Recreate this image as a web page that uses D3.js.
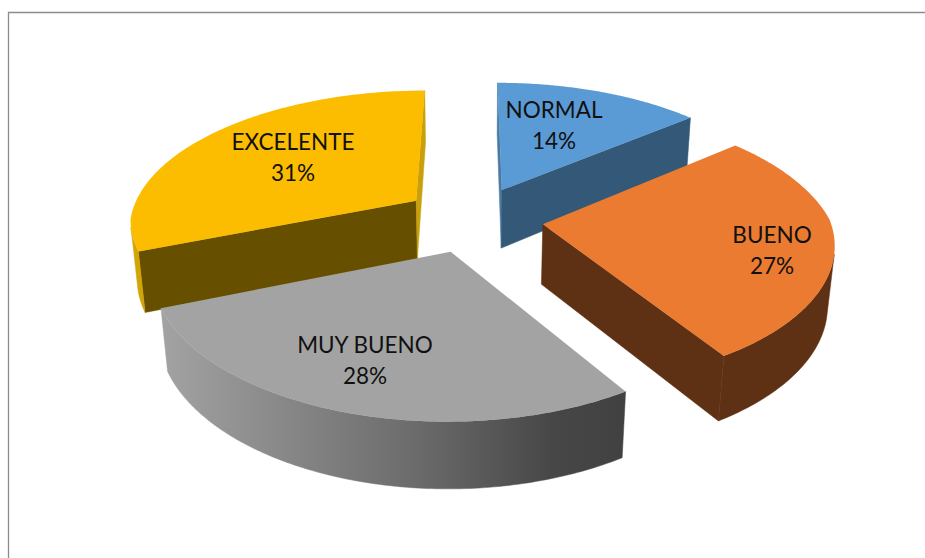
<!DOCTYPE html>
<html><head><meta charset="utf-8">
<script src="https://cdn.jsdelivr.net/npm/d3@7/dist/d3.min.js"></script>
<style>html,body{margin:0;padding:0;background:#fff;overflow:hidden}svg{display:block}</style>
</head><body><svg id="c" width="925" height="558"></svg>
<script>
const categories = ["NORMAL","BUENO","MUY BUENO","EXCELENTE"];
const values = [14,27,28,31];
const topColors = ["#5B9BD5","#EB7B30","#A3A3A3","#FCBD00"];
const startWallColors = ["#4A7AA3","#5F3114","#5F5F5F","#665000"];
const endWallColors = ["#335878","#5F3114","#5F5F5F","#C9A00A"];
const outerColors = ["#335878","#5F3114","url(#wallGrey)","#D2A406"];
const drawOrder = [3,0,1,2];
const labelPos = [[554,111],[772,236],[365,346],[293,143]];

const cx=473, cy=219, R=287, A=136, PB=0.18, PFX=0.125, PFY=0.14, Q=0.02, DEPTH=61, EXPLODE=0.245;

const svg=d3.select("#c");
const xS=d3.scaleLinear().domain([-1,1]).range([-R,R]);
const yS=d3.scaleLinear().domain([-1,1]).range([-A,A]);
function proj(u,v,z){
  const wx=1-(v<0?PB:PFX)*v+Q*z, wy=1-(v<0?PB:PFY)*v+Q*z;
  return [cx+xS(u)/wx, cy+(yS(v)+DEPTH*z)/wy];
}
const pie=d3.pie().sort(null).startAngle(0).endAngle(2*Math.PI);
const arcs=pie(values);
const line=d3.line();

svg.append("path").attr("d",line([[8.5,558],[8.5,12.5],[925,12.5]])).attr("fill","none").attr("stroke","#8c8c8c").attr("stroke-width",1.3);

const defs=svg.append("defs");
const g=defs.append("linearGradient").attr("id","wallGrey").attr("gradientUnits","userSpaceOnUse")
  .attr("x1",156).attr("x2",622).attr("y1",0).attr("y2",0);
[[0,"#a4a4a4"],[0.25,"#8a8a8a"],[0.55,"#6c6c6c"],[0.85,"#474747"],[1,"#414141"]].forEach(s=>g.append("stop").attr("offset",s[0]).attr("stop-color",s[1]));

function area2(a,b,c){return (b[0]-a[0])*(c[1]-a[1])-(b[1]-a[1])*(c[0]-a[0]);}

drawOrder.forEach(i=>{
  const a=arcs[i], mid=(a.startAngle+a.endAngle)/2;
  const ox=Math.sin(mid)*EXPLODE, oy=-Math.cos(mid)*EXPLODE;
  const pt=(ang,r,z)=>proj(ox+r*Math.sin(ang),oy-r*Math.cos(ang),z);
  const N=120;
  const angs=d3.range(N+1).map(j=>a.startAngle+(a.endAngle-a.startAngle)*j/N);
  const gr=svg.append("g").attr("class","slice");
  const fillPoly=(q,fill)=>gr.append("path").attr("d",line(q)+"Z").attr("fill",fill).attr("stroke",fill).attr("stroke-width",.5);
  const face=(q,fill)=>{ if(area2(q[0],q[1],q[2])<0) fillPoly(q,fill); };
  face([pt(a.startAngle,0,0),pt(a.startAngle,1,0),pt(a.startAngle,1,1),pt(a.startAngle,0,1)],startWallColors[i]);
  face([pt(a.endAngle,1,0),pt(a.endAngle,0,0),pt(a.endAngle,0,1),pt(a.endAngle,1,1)],endWallColors[i]);
  let run=[];
  const flush=()=>{
    if(run.length>1){
      fillPoly(run.map(t=>pt(t,1,0)).concat(run.slice().reverse().map(t=>pt(t,1,1))),outerColors[i]);
    }
    run=[];
  };
  for(let j=0;j<N;j++){
    const vis=area2(pt(angs[j],1,0),pt(angs[j+1],1,0),pt(angs[j+1],1,1))<0;
    if(vis){ if(!run.length) run.push(angs[j]); run.push(angs[j+1]); }
    else flush();
  }
  flush();
  const top=[pt(a.startAngle,0,0)].concat(angs.map(t=>pt(t,1,0)));
  gr.append("path").attr("d",line(top)+"Z").attr("fill",topColors[i]);
});

categories.forEach((c,i)=>{
  const t=svg.append("text").attr("text-anchor","middle")
    .attr("font-family","Lato, 'Open Sans', sans-serif").attr("font-size",22.5).attr("fill","#111");
  t.append("tspan").attr("x",labelPos[i][0]).attr("y",labelPos[i][1]+7).text(c);
  t.append("tspan").attr("x",labelPos[i][0]).attr("y",labelPos[i][1]+38).text(values[i]+"%");
});
</script></body></html>
